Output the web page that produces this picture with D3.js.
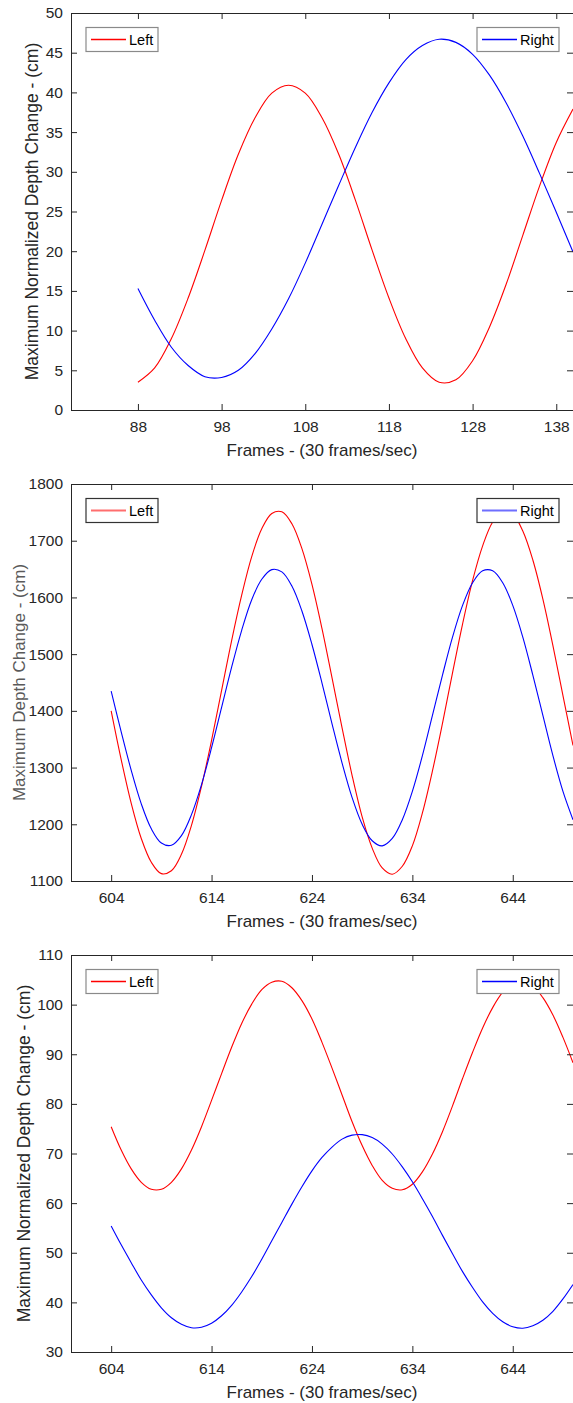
<!DOCTYPE html>
<html>
<head>
<meta charset="utf-8">
<script src="https://cdn.jsdelivr.net/npm/d3@7"></script>
<style>
  body { margin: 0; background: #fff; }
  svg { display: block; font-family: "Liberation Sans", Arial, Helvetica, sans-serif; }
</style>
</head>
<body>
<div id="chart"></div>
<script>
// panel 1 - frames 88..140
const framesTop = [88, 90, 92, 94, 96, 98, 100, 102, 104, 106, 108, 110, 112, 114, 116, 118, 120, 122, 124, 126, 128, 130, 132, 134, 136, 138, 140];
const leftTop = [3.5, 5.3, 9.0, 14.1, 20.1, 26.4, 32.2, 36.8, 39.9, 40.9, 39.9, 36.8, 32.2, 26.4, 20.1, 14.1, 9.0, 5.3, 3.5, 3.8, 6.2, 10.4, 15.8, 22.0, 28.2, 33.7, 37.9];
const rightTop = [15.3, 11.3, 7.9, 5.6, 4.2, 4.1, 5.0, 7.1, 10.2, 14.0, 18.5, 23.4, 28.3, 33.1, 37.5, 41.2, 44.1, 45.9, 46.7, 46.3, 44.8, 42.2, 38.7, 34.5, 29.8, 24.9, 19.9];

// panels 2 and 3 - frames 604..650
const framesLow = [604, 605, 606, 607, 608, 609, 610, 611, 612, 613, 614, 615, 616, 617, 618, 619, 620, 621, 622, 623, 624, 625, 626, 627, 628, 629, 630, 631, 632, 633, 634, 635, 636, 637, 638, 639, 640, 641, 642, 643, 644, 645, 646, 647, 648, 649, 650];
const leftMid = [1400, 1314, 1237, 1175, 1133, 1113, 1118, 1147, 1198, 1267, 1348, 1436, 1524, 1604, 1672, 1721, 1748, 1751, 1730, 1686, 1623, 1545, 1458, 1370, 1286, 1213, 1158, 1123, 1112, 1126, 1162, 1220, 1294, 1378, 1467, 1553, 1630, 1691, 1733, 1752, 1747, 1717, 1666, 1597, 1515, 1427, 1339];
const rightMid = [1435, 1363, 1295, 1236, 1192, 1167, 1163, 1180, 1217, 1270, 1335, 1406, 1477, 1542, 1596, 1632, 1649, 1645, 1620, 1576, 1517, 1449, 1377, 1308, 1247, 1200, 1171, 1162, 1175, 1208, 1258, 1321, 1392, 1463, 1530, 1586, 1626, 1647, 1647, 1626, 1586, 1530, 1463, 1392, 1321, 1258, 1208];
const leftBottom = [75.4, 70.7, 66.9, 64.2, 62.8, 62.8, 64.2, 66.9, 70.7, 75.4, 80.7, 86.1, 91.4, 96.2, 100.1, 103.0, 104.5, 104.7, 103.4, 100.8, 97.1, 92.4, 87.2, 81.8, 76.4, 71.6, 67.6, 64.6, 63.0, 62.7, 63.8, 66.3, 69.9, 74.4, 79.6, 85.1, 90.4, 95.3, 99.4, 102.5, 104.3, 104.7, 103.8, 101.4, 97.9, 93.4, 88.3];
const rightBottom = [55.4, 51.6, 48.0, 44.5, 41.5, 38.9, 36.9, 35.6, 34.9, 35.0, 35.8, 37.3, 39.4, 42.1, 45.2, 48.7, 52.4, 56.1, 59.8, 63.3, 66.5, 69.2, 71.3, 72.9, 73.7, 73.8, 73.2, 71.9, 69.9, 67.3, 64.3, 60.9, 57.3, 53.5, 49.8, 46.2, 43.0, 40.1, 37.8, 36.1, 35.1, 34.8, 35.3, 36.4, 38.2, 40.7, 43.6];

// tick labels
const xTicksTop = [88, 98, 108, 118, 128, 138];
const xTicksLow = [604, 614, 624, 634, 644];
const yTicksTop = [0, 5, 10, 15, 20, 25, 30, 35, 40, 45, 50];
const yTicksMid = [1100, 1200, 1300, 1400, 1500, 1600, 1700, 1800];
const yTicksBottom = [30, 40, 50, 60, 70, 80, 90, 100, 110];

const seriesNames = ["Left", "Right"];
const xTitle = "Frames - (30 frames/sec)";

var width = 573, height = 1403;
var plotLeft = 71, plotRight = 573, plotH = 397;
var axisColor = "#262626";

var svg = d3.select("#chart").append("svg")
    .attr("width", width)
    .attr("height", height);

function drawPanel(p) {
  var bottom = p.top + plotH;
  var x = d3.scaleLinear().domain(p.xDomain).range([plotLeft, plotRight]);
  var y = d3.scaleLinear().domain(p.yDomain).range([bottom, p.top]);

  var clipId = "clip" + p.id;
  svg.append("clipPath").attr("id", clipId)
    .append("rect")
      .attr("x", plotLeft).attr("y", p.top)
      .attr("width", plotRight - plotLeft).attr("height", plotH);

  var g = svg.append("g");

  // curves
  var series = [
    { values: p.left, color: "#ff0000" },
    { values: p.right, color: "#0000ff" }
  ];
  series.forEach(s => {
    g.append("path")
      .attr("clip-path", "url(#" + clipId + ")")
      .attr("d", d3.line()
        .x((d, i) => x(p.frames[i]))
        .y(d => y(d))
        .curve(d3.curveCatmullRom)(s.values))
      .attr("fill", "none")
      .attr("stroke", s.color)
      .attr("stroke-width", 1.1);
  });

  // box axes, ticks pointing inward like matlab
  var bottomAx = g.append("g").attr("transform", "translate(0," + bottom + ")")
    .call(d3.axisBottom(x).tickValues(p.xTicks).tickFormat(d3.format("d"))
      .tickSize(-6).tickSizeOuter(0).tickPadding(11));
  var leftAx = g.append("g").attr("transform", "translate(" + plotLeft + ",0)")
    .call(d3.axisLeft(y).tickValues(p.yTicks).tickFormat(d3.format("d"))
      .tickSize(-6).tickSizeOuter(0).tickPadding(8));
  g.append("g").attr("transform", "translate(0," + p.top + ")")
    .call(d3.axisTop(x).tickValues(p.xTicks).tickSize(-6).tickSizeOuter(0).tickFormat(""));
  g.append("g").attr("transform", "translate(" + plotRight + ",0)")
    .call(d3.axisRight(y).tickValues(p.yTicks).tickSize(-6).tickSizeOuter(0).tickFormat(""));

  g.selectAll(".domain, .tick line").attr("stroke", axisColor);
  [bottomAx, leftAx].forEach(a => {
    a.attr("font-size", 15.5).attr("font-family", null);
    a.selectAll("text").attr("fill", axisColor);
  });

  // axis titles
  g.append("text")
    .attr("x", (plotLeft + plotRight) / 2)
    .attr("y", bottom + 46)
    .attr("text-anchor", "middle")
    .attr("font-size", 17)
    .attr("fill", axisColor)
    .text(xTitle);

  g.append("text")
    .attr("transform", "translate(" + p.labelX + "," + (p.top + plotH / 2) + ") rotate(-90)")
    .attr("text-anchor", "middle")
    .attr("font-size", p.labelSize)
    .attr("fill", p.labelColor)
    .text(p.yLabel);

  // legends: one box each in the top corners
  var boxes = [
    { name: seriesNames[0], color: p.legendColors[0], x: plotLeft + 15, w: 72 },
    { name: seriesNames[1], color: p.legendColors[1], x: 477, w: 82 }
  ];
  boxes.forEach(b => {
    var lg = g.append("g").attr("transform", "translate(" + b.x + "," + (p.top + 14.5) + ")");
    lg.append("rect")
      .attr("width", b.w).attr("height", 24)
      .attr("fill", "#fff")
      .attr("stroke", p.legendBorder)
      .attr("stroke-width", 1.2);
    lg.append("path")
      .attr("d", "M5,12H40")
      .attr("fill", "none")
      .attr("stroke", b.color)
      .attr("stroke-width", p.legendLineWidth);
    lg.append("text")
      .attr("x", 43).attr("y", 17)
      .attr("font-size", 14.5)
      .attr("fill", "#000")
      .text(b.name);
  });
}

drawPanel({
  id: 1, top: 13,
  xDomain: [80, 140], yDomain: [0, 50],
  xTicks: xTicksTop, yTicks: yTicksTop,
  frames: framesTop, left: leftTop, right: rightTop,
  yLabel: "Maximum Normalized Depth Change - (cm)", labelX: 38, labelSize: 17.5, labelColor: axisColor,
  legendColors: ["#ff0000", "#0000ff"], legendBorder: "#8a8a8a", legendLineWidth: 1.3
});

drawPanel({
  id: 2, top: 484,
  xDomain: [600, 650], yDomain: [1100, 1800],
  xTicks: xTicksLow, yTicks: yTicksMid,
  frames: framesLow, left: leftMid, right: rightMid,
  yLabel: "Maximum Depth Change - (cm)", labelX: 25, labelSize: 17, labelColor: "#5a5a5a",
  legendColors: ["#ff6e6e", "#6e6eff"], legendBorder: "#333", legendLineWidth: 2.2
});

drawPanel({
  id: 3, top: 955,
  xDomain: [600, 650], yDomain: [30, 110],
  xTicks: xTicksLow, yTicks: yTicksBottom,
  frames: framesLow, left: leftBottom, right: rightBottom,
  yLabel: "Maximum Normalized Depth Change - (cm)", labelX: 30, labelSize: 17.5, labelColor: axisColor,
  legendColors: ["#ff0000", "#0000ff"], legendBorder: "#8a8a8a", legendLineWidth: 1.3
});
</script>
</body>
</html>
